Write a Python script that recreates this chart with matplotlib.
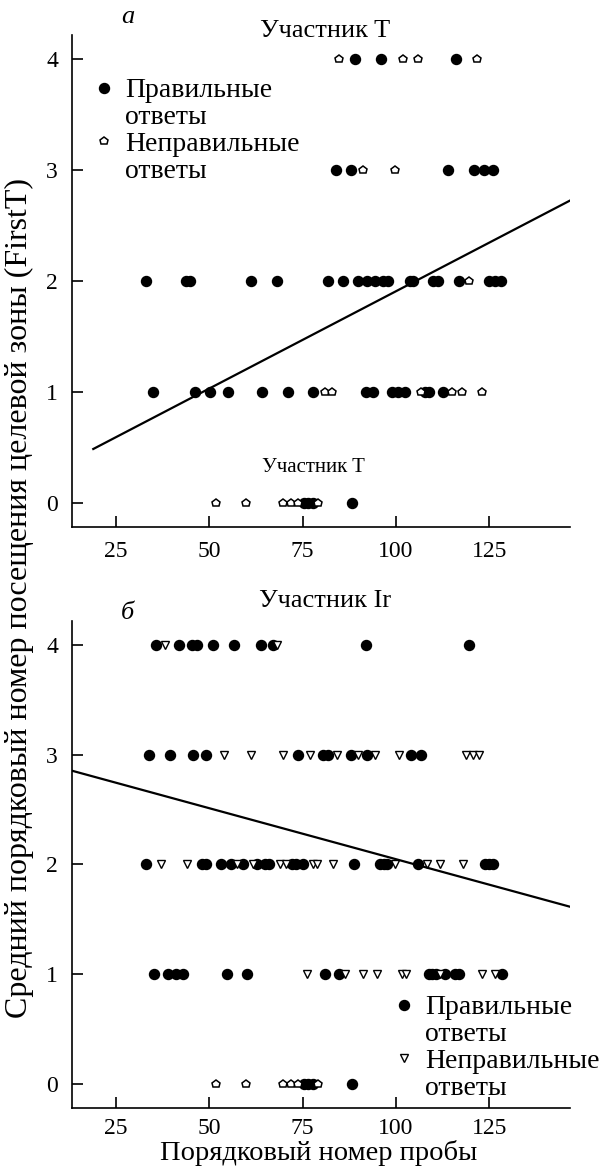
import matplotlib.pyplot as plt
from matplotlib.lines import Line2D

plt.rcParams["font.family"] = ["Liberation Serif", "DejaVu Serif"]

levels = [4, 3, 2, 1, 0]

# panel a (participant T): x positions of points on each level 4..0
a_hit = [
    [89, 96, 116],
    [84, 88, 114, 121, 123.5, 126],
    [33, 43.7, 44.8, 61.1, 68.1, 81.7, 85.8, 89.7, 92.3, 94.4, 96.6, 97.9,
     103.7, 104.6, 110.0, 111.3, 116.9, 125.0, 126.5, 128.0],
    [34.8, 46.2, 50.2, 55.1, 64.0, 71.0, 77.8, 91.9, 93.9, 98.8, 100.6, 102.4,
     107.8, 108.7, 112.7],
    [75.4, 76.5, 77.7, 88.1],
]
a_miss = [
    [84.8, 101.8, 105.9, 121.8],
    [91.2, 99.8],
    [119.6],
    [80.9, 82.9, 106.6, 114.9, 117.6, 123.0],
    [51.9, 59.8, 69.8, 71.8, 73.8, 79.2],
]
a_fit_x = [18.9, 146.6]
a_fit_y = [0.484, 2.726]

# panel b (participant Ir)
b_hit = [
    [35.7, 41.9, 45.3, 46.8, 51.1, 56.6, 63.8, 67.0, 91.9, 119.6],
    [33.9, 39.5, 45.7, 49.1, 73.8, 80.5, 81.9, 87.9, 92.1, 103.9, 106.6],
    [32.9, 47.9, 49.1, 53.0, 55.7, 58.9, 62.7, 64.9, 66.1, 72.0, 73.2, 75.0,
     88.8, 95.7, 96.8, 97.5, 106.0, 123.8, 125.0, 126.1],
    [35.2, 39.0, 41.1, 43.0, 54.6, 60.2, 81.0, 84.8, 108.7, 109.6, 110.7,
     113.1, 115.8, 116.9, 128.3],
    [75.4, 76.5, 77.7, 88.1],
]
b_miss = [
    [38.1, 68.2],
    [53.9, 61.1, 69.6, 76.9, 84.1, 89.9, 94.4, 100.9, 118.7, 120.5, 122.3],
    [37.0, 44.1, 57.5, 61.6, 68.9, 70.5, 77.8, 78.9, 83.2, 99.7, 108.2,
     111.8, 118.0],
    [76.1, 86.3, 91.2, 94.8, 101.5, 102.6, 111.8, 122.9, 126.5],
    [],
]
# level 0 of panel b repeats the pentagons of panel a
b_extra = [[], [], [], [], [51.9, 59.8, 69.8, 71.8, 73.8, 79.2]]
b_fit_x = [13.2, 146.6]
b_fit_y = [2.855, 1.615]

xticks = [25, 50, 75, 100, 125]
yticks = [0, 1, 2, 3, 4]


def flat(rows):
    xs, ys = [], []
    for lev, row in zip(levels, rows):
        xs += row
        ys += [lev] * len(row)
    return xs, ys


def style(ax):
    ax.set_xlim(13.2, 146.6)
    ax.set_ylim(-0.22, 4.22)
    ax.set_xticks(xticks)
    ax.set_yticks(yticks)
    ax.spines["top"].set_visible(False)
    ax.spines["right"].set_visible(False)
    for s in ("left", "bottom"):
        ax.spines[s].set_linewidth(1.2)
    ax.tick_params(direction="in", length=8, width=1.2, labelsize=17, pad=10)


fig = plt.figure(figsize=(6.01, 11.70), dpi=100)
ax1 = fig.add_axes([72 / 601, 1 - 527 / 1170, 498 / 601, 492 / 1170])
ax2 = fig.add_axes([72 / 601, 1 - 1108 / 1170, 498 / 601, 487 / 1170])

circ = dict(ls="none", marker="o", ms=7.2, mfc="black", mec="black")
pent = dict(ls="none", marker="p", ms=6.2, mfc="white", mec="black", mew=1.1)
tri = dict(ls="none", marker="v", ms=5.8, mfc="white", mec="black", mew=1.0)

# panel a
x, y = flat(a_hit)
ax1.plot(x, y, **circ)
x, y = flat(a_miss)
ax1.plot(x, y, **pent)
ax1.plot(a_fit_x, a_fit_y, color="black", lw=1.6)
style(ax1)
ax1.text(0.484, 0.12, "Участник T", transform=ax1.transAxes, ha="center",
         va="center", fontsize=15)

blank = Line2D([], [], ls="none")
h1 = [Line2D([], [], **circ), blank, Line2D([], [], **pent), blank]
lab = ["Правильные", "ответы", "Неправильные", "ответы"]
ax1.legend(h1, lab, loc="upper left", bbox_to_anchor=(97 / 601, 1 - 78 / 1170),
           bbox_transform=fig.transFigure, frameon=False, fontsize=20,
           handlelength=0.5, handletextpad=0.5, labelspacing=0.05,
           borderpad=0, borderaxespad=0)

# panel b
x, y = flat(b_hit)
ax2.plot(x, y, **circ)
x, y = flat(b_miss)
ax2.plot(x, y, **tri)
x, y = flat(b_extra)
ax2.plot(x, y, **pent)
ax2.plot(b_fit_x, b_fit_y, color="black", lw=1.6)
style(ax2)
ax2.tick_params(axis="x", pad=7)

h2 = [Line2D([], [], **circ), blank, Line2D([], [], **tri), blank]
ax2.legend(h2, lab, loc="upper left", bbox_to_anchor=(397 / 601, 1 - 995 / 1170),
           bbox_transform=fig.transFigure, frameon=False, fontsize=20,
           handlelength=0.5, handletextpad=0.5, labelspacing=0.05,
           borderpad=0, borderaxespad=0)

fig.text(319 / 601, 1 - 1153 / 1170, "Порядковый номер пробы",
         ha="center", va="center", fontsize=20.5)
fig.text(325 / 601, 1 - 31 / 1170, "Участник T", ha="center", va="center", fontsize=19)
fig.text(325 / 601, 1 - 601 / 1170, "Участник Ir", ha="center", va="center", fontsize=19)
fig.text(128 / 601, 1 - 17 / 1170, "а", ha="center", va="center", fontsize=19, style="italic")
fig.text(127 / 601, 1 - 613 / 1170, "б", ha="center", va="center", fontsize=19, style="italic")
fig.text(19 / 601, 1 - 598 / 1170,
         "Средний порядковый номер посещения целевой зоны (FirstT)",
         rotation=90, ha="center", va="center", fontsize=23)

fig.savefig("out.png", dpi=100)
